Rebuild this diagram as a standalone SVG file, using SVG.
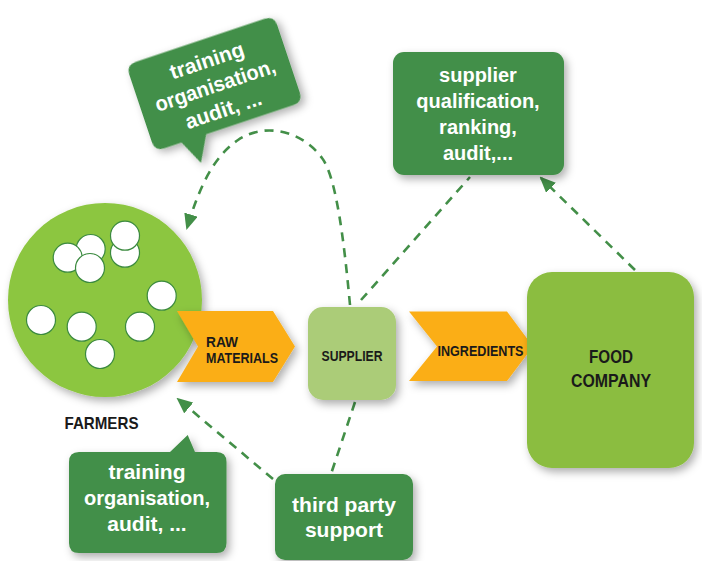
<svg xmlns="http://www.w3.org/2000/svg" width="702" height="561" viewBox="0 0 702 561">
<style>
.dg{fill:#438f48}
.wt{font-family:"Liberation Sans",Arial,sans-serif;font-weight:bold;font-size:20px;fill:#fff;text-anchor:middle}
.wl{font-size:21px}
.bt{font-family:"Liberation Sans",Arial,sans-serif;font-weight:bold;fill:#1a1a1a}
.con{fill:none;stroke:#438f48;stroke-width:2.6;stroke-dasharray:9 7}
.sm{fill:#fff;stroke:#3b8a3f;stroke-width:1.2}
.chev{fill:#fbae18}
</style>
<defs>
<filter id="sh" x="-20%" y="-20%" width="150%" height="150%">
<feDropShadow dx="3" dy="4" stdDeviation="4" flood-color="#000" flood-opacity="0.32"/>
</filter>
<marker id="ah" viewBox="0 0 16 14" markerWidth="16" markerHeight="14" refX="14" refY="7" orient="auto" markerUnits="userSpaceOnUse">
<path d="M0,0 L16,7 L0,14 z" fill="#438f48"/>
</marker>
</defs>
<rect width="702" height="561" fill="#fff"/>

<g id="connectors">
<path class="con" d="M350,305 C344,240 336,176 322,158 C305,134 268,120 238,140 C213,157 199,188 187,228" marker-end="url(#ah)"/>
<path class="con" d="M273,479 L178,399" marker-end="url(#ah)"/>
<path class="con" d="M355,402 L331,474"/>
<path class="con" d="M361,300 L470,177"/>
<path class="con" d="M635,270 L541,178" marker-end="url(#ah)"/>
</g>

<g id="farmers">
<circle cx="105" cy="300" r="97" fill="#8cc63f" filter="url(#sh)"/>
<circle class="sm" cx="90.7" cy="249" r="14.5"/>
<circle class="sm" cx="67.7" cy="257.7" r="14.5"/>
<circle class="sm" cx="90" cy="268" r="14.5"/>
<circle class="sm" cx="125" cy="252.7" r="14.5"/>
<circle class="sm" cx="125" cy="235.7" r="14.5"/>
<circle class="sm" cx="161.7" cy="295.7" r="14.5"/>
<circle class="sm" cx="41" cy="320" r="14.5"/>
<circle class="sm" cx="81.7" cy="326.7" r="14.5"/>
<circle class="sm" cx="140" cy="326.7" r="14.5"/>
<circle class="sm" cx="100" cy="354" r="14.5"/>
<text class="bt" x="101.5" y="429" font-size="17" text-anchor="middle" textLength="74" lengthAdjust="spacingAndGlyphs">FARMERS</text>
</g>

<g id="raw-materials">
<polygon class="chev" points="177,311 273,311 295,346.5 273,382 177,382 198,346.5" filter="url(#sh)"/>
<text class="bt" x="206" y="346.5" font-size="14" textLength="32" lengthAdjust="spacingAndGlyphs">RAW</text>
<text class="bt" x="206" y="363" font-size="14" textLength="72" lengthAdjust="spacingAndGlyphs">MATERIALS</text>
</g>

<g id="supplier">
<rect x="308" y="307" width="88" height="93" rx="15" fill="#abcc78" filter="url(#sh)"/>
<text class="bt" x="352" y="361" font-size="14" text-anchor="middle" textLength="61" lengthAdjust="spacingAndGlyphs">SUPPLIER</text>
</g>

<g id="ingredients">
<polygon class="chev" points="409,311.5 507,311.5 533,346.5 507,381 409,381 437,346.5" filter="url(#sh)"/>
<text class="bt" x="480.5" y="355.5" font-size="14.5" text-anchor="middle" textLength="86" lengthAdjust="spacingAndGlyphs">INGREDIENTS</text>
</g>

<g id="food-company">
<rect x="527" y="272" width="167" height="196" rx="25" fill="#8bbd3f" filter="url(#sh)"/>
<text class="bt" x="611" y="363" font-size="18.5" text-anchor="middle" textLength="44" lengthAdjust="spacingAndGlyphs">FOOD</text>
<text class="bt" x="611" y="387" font-size="18.5" text-anchor="middle" textLength="80" lengthAdjust="spacingAndGlyphs">COMPANY</text>
</g>

<g id="bubble-top" transform="translate(214.5,83.5) rotate(-18.5)">
<path class="dg" filter="url(#sh)" d="M-68,-45.5 H68 Q78,-45.5 78,-35.5 V35.5 Q78,45.5 68,45.5 H-24 L-38,71 L-50,45.5 H-68 Q-78,45.5 -78,35.5 V-35.5 Q-78,-45.5 -68,-45.5 Z"/>
<text class="wt wl" x="0" y="-17">training</text>
<text class="wt wl" x="0" y="9" textLength="126" lengthAdjust="spacingAndGlyphs">organisation,</text>
<text class="wt wl" x="0" y="35">audit, ...</text>
</g>

<g id="supplier-qualification">
<rect class="dg" x="393" y="52" width="171" height="123" rx="11" filter="url(#sh)"/>
<text class="wt" x="478" y="81.5">supplier</text>
<text class="wt" x="478" y="107.5">qualification,</text>
<text class="wt" x="478" y="133.5">ranking,</text>
<text class="wt" x="478" y="159.5">audit,...</text>
</g>

<g id="bubble-bottom">
<path class="dg" filter="url(#sh)" d="M79,452 H170 L187.7,435 L195,452 H216.5 Q226.5,452 226.5,462 V543 Q226.5,553 216.5,553 H79 Q69,553 69,543 V462 Q69,452 79,452 Z"/>
<text class="wt wl" x="147" y="479">training</text>
<text class="wt wl" x="147" y="505" textLength="126" lengthAdjust="spacingAndGlyphs">organisation,</text>
<text class="wt wl" x="147" y="531">audit, ...</text>
</g>

<g id="third-party">
<rect class="dg" x="275" y="474" width="138" height="86" rx="10" filter="url(#sh)"/>
<text class="wt wl" x="344" y="511.5">third party</text>
<text class="wt wl" x="344" y="536.5">support</text>
</g>
</svg>
